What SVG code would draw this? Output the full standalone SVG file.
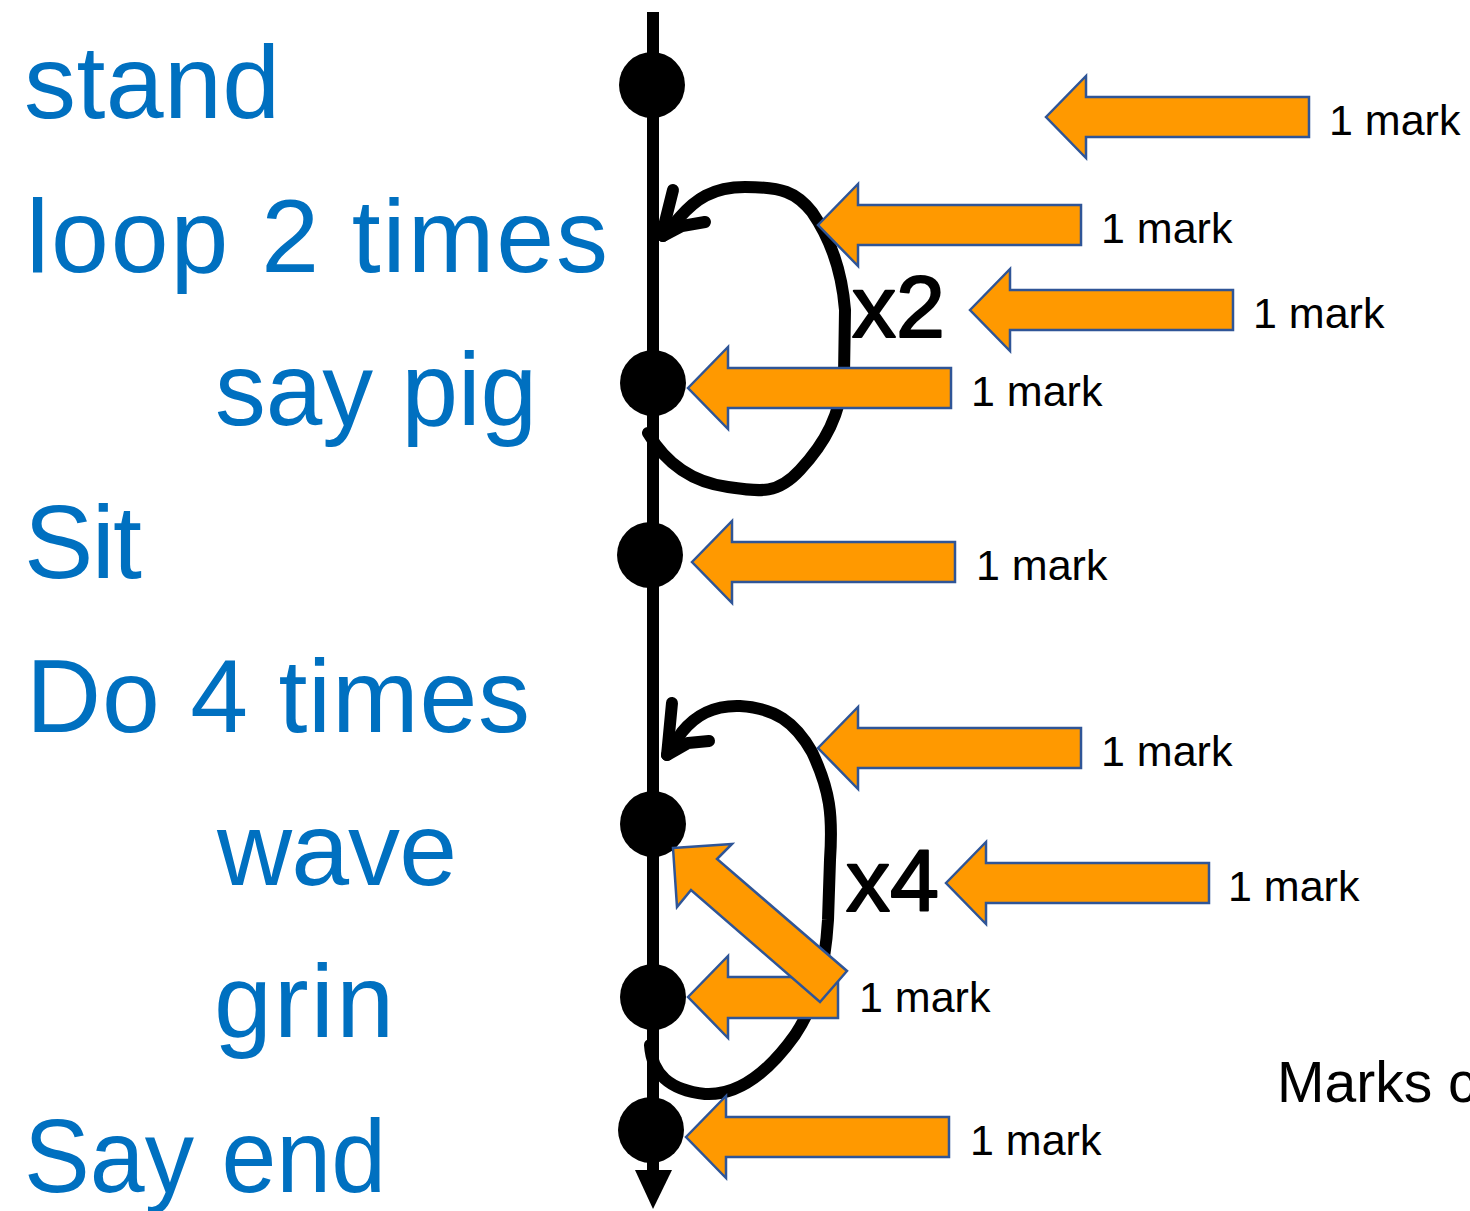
<svg xmlns="http://www.w3.org/2000/svg" width="1470" height="1211" viewBox="0 0 1470 1211">
<style>
.step{font-family:"Liberation Sans",Arial,sans-serif;font-size:104px;fill:#0070C0}
.mark{font-family:"Liberation Sans",Arial,sans-serif;font-size:43px;fill:#000}
.hand{font-family:"Liberation Sans",Arial,sans-serif;font-size:88px;fill:#000;stroke:#000;stroke-width:2;stroke-linejoin:round}
.blk{fill:#FF9900;stroke:#2F5597;stroke-width:2.5;stroke-linejoin:miter}
.loop{fill:none;stroke:#000;stroke-width:12;stroke-linecap:round;stroke-linejoin:round}
.dot{fill:#000}
</style>
<defs>
<path id="ba" d="M0,0 L40,-41 L40,-20 L263,-20 L263,20 L40,20 L40,41 Z"/>
</defs>
<rect width="1470" height="1211" fill="#fff"/>

<g id="connectors">
<line x1="653" y1="12" x2="653" y2="1172" stroke="#000" stroke-width="12"/>
<polygon points="635,1170 672,1170 653,1209" fill="#000"/>
<path class="loop" d="M648,433 C665,462 690,482 728,487 C762,492 778,494 800,470 C826,442 840,415 844,375 L845,310 C842,272 830,238 812,212 C796,192 782,187 745,187 C712,187 695,200 680,217 L663,236"/>
<path class="loop" d="M673,190 L664,226 L663,236 L682,226 L705,222"/>
<path class="loop" d="M650,1045 C652,1075 670,1090 705,1094 C740,1096 770,1070 795,1035 C815,1005 825,970 828,920 L830,860 C833,815 830,790 812,752 C795,722 775,708 740,706 C712,705 695,716 682,732 L667,755"/>
<path class="loop" d="M672,703 L668,745 L667,755 L688,743 L709,741"/>
</g>

<g id="node-stand">
<text class="step" x="24" y="118" textLength="256">stand</text>
<circle class="dot" cx="652" cy="85" r="33"/>
</g>
<g id="node-loop">
<text class="step" x="26" y="272" textLength="582">loop 2 times</text>
</g>
<g id="node-saypig">
<text class="step" x="215" y="425" textLength="322" lengthAdjust="spacingAndGlyphs">say pig</text>
<circle class="dot" cx="653" cy="383" r="33"/>
</g>
<g id="node-sit">
<text class="step" x="24" y="578" textLength="118">Sit</text>
<circle class="dot" cx="650" cy="555" r="33"/>
</g>
<g id="node-do">
<text class="step" x="26" y="732" textLength="504">Do 4 times</text>
</g>
<g id="node-wave">
<text class="step" x="217" y="885" textLength="240">wave</text>
<circle class="dot" cx="653" cy="824" r="33"/>
</g>
<g id="node-grin">
<text class="step" x="214" y="1037" textLength="180">grin</text>
<circle class="dot" cx="653" cy="997" r="33"/>
</g>
<g id="node-sayend">
<text class="step" x="24" y="1192" textLength="362" lengthAdjust="spacingAndGlyphs">Say end</text>
<circle class="dot" cx="651" cy="1130" r="33"/>
</g>

<g id="loop-labels">
<text class="hand" x="852" y="337">x2</text>
<text class="hand" x="846" y="911">x4</text>
</g>

<g id="mark-1">
<use href="#ba" class="blk" transform="translate(1046,117)"/>
<text class="mark" x="1329" y="135">1 mark</text>
</g>
<g id="mark-2">
<use href="#ba" class="blk" transform="translate(818,225)"/>
<text class="mark" x="1101" y="243">1 mark</text>
</g>
<g id="mark-3">
<use href="#ba" class="blk" transform="translate(970,310)"/>
<text class="mark" x="1253" y="328">1 mark</text>
</g>
<g id="mark-4">
<use href="#ba" class="blk" transform="translate(688,388)"/>
<text class="mark" x="971" y="406">1 mark</text>
</g>
<g id="mark-5">
<use href="#ba" class="blk" transform="translate(692,562)"/>
<text class="mark" x="976" y="580">1 mark</text>
</g>
<g id="mark-6">
<use href="#ba" class="blk" transform="translate(818,748)"/>
<text class="mark" x="1101" y="766">1 mark</text>
</g>
<g id="mark-7">
<use href="#ba" class="blk" transform="translate(946,883)"/>
<text class="mark" x="1228" y="901">1 mark</text>
</g>
<g id="mark-8">
<path class="blk" d="M688,997 L728,956 L728,977 L838,977 L838,1018 L728,1018 L728,1038 Z"/>
<polygon class="blk" points="673,848 732,844 717,859 847,971 820,1002 691,890 677,907"/>
<text class="mark" x="859" y="1012">1 mark</text>
</g>
<g id="mark-9">
<use href="#ba" class="blk" transform="translate(686,1137)"/>
<text class="mark" x="970" y="1155">1 mark</text>
</g>

<text x="1277" y="1102" font-family="Liberation Sans, Arial, sans-serif" font-size="57" fill="#000">Marks c</text>
</svg>
